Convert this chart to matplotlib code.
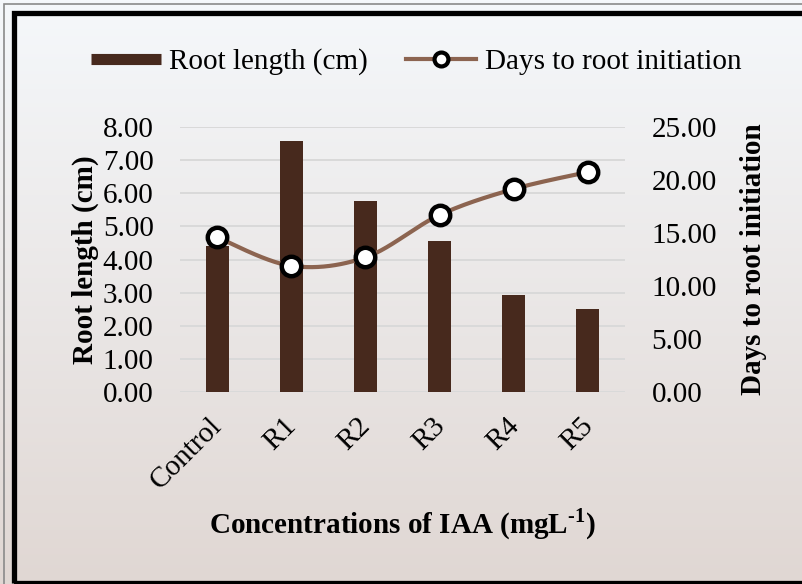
import numpy as np
import matplotlib
matplotlib.use("Agg")
import matplotlib.pyplot as plt
import matplotlib.transforms as mtransforms
from matplotlib.lines import Line2D
from matplotlib.patches import Rectangle

plt.rcParams['font.family'] = ['Liberation Serif', 'DejaVu Serif']
plt.rcParams['mathtext.fontset'] = 'custom'
plt.rcParams['mathtext.rm'] = 'Liberation Serif:bold'
plt.rcParams['mathtext.bf'] = 'Liberation Serif:bold'

categories = ['Control', 'R1', 'R2', 'R3', 'R4', 'R5']
root_length = [4.41, 7.57, 5.78, 4.56, 2.93, 2.51]
days_to_root = [14.6, 11.9, 12.7, 16.7, 19.15, 20.75]
left_ticks = [0, 1, 2, 3, 4, 5, 6, 7, 8]
right_ticks = [0, 5, 10, 15, 20, 25]

bar_color = '#47291D'
line_color = '#8C6450'
fs = 21


def smooth_curve(xs, ys, n=40):
    # Excel-style smoothed line (bezier through the points)
    xs = np.asarray(xs, float)
    ys = np.asarray(ys, float)
    px = np.concatenate([[xs[0]], xs, [xs[-1]]])
    py = np.concatenate([[ys[0]], ys, [ys[-1]]])
    out_x, out_y = [], []
    t = np.linspace(0, 1, n)
    for i in range(1, len(px) - 2):
        p0 = np.array([px[i], py[i]])
        p3 = np.array([px[i + 1], py[i + 1]])
        p1 = p0 + (p3 - np.array([px[i - 1], py[i - 1]])) / 6
        p2 = p3 - (np.array([px[i + 2], py[i + 2]]) - p0) / 6
        b = ((1 - t) ** 3)[:, None] * p0 + (3 * (1 - t) ** 2 * t)[:, None] * p1 \
            + (3 * (1 - t) * t ** 2)[:, None] * p2 + (t ** 3)[:, None] * p3
        out_x.extend(b[:, 0])
        out_y.extend(b[:, 1])
    return out_x, out_y


fig = plt.figure(figsize=(8.02, 5.84), dpi=100)

# background gradient
bg = fig.add_axes([0, 0, 1, 1], zorder=-10)
top = np.array([245, 248, 251]) / 255
bot = np.array([224, 215, 211]) / 255
grad = np.linspace(0, 1, 256)[:, None, None] * (bot - top) + top
bg.imshow(np.repeat(grad, 2, axis=1), aspect='auto', extent=[0, 1, 0, 1])
bg.axis('off')

# frame
fig.patches.append(Rectangle((13.5 / 802, 1 / 584), 1.2, (584 - 13.5) / 584,
                             transform=fig.transFigure, fill=False,
                             edgecolor='black', linewidth=3.8))
fig.patches.append(Rectangle((4 / 802, -0.1), 1.2, (584 - 4) / 584 + 0.1,
                             transform=fig.transFigure, fill=False,
                             edgecolor='#8A8A8A', linewidth=1.2))

ax = fig.add_axes([180 / 802, 1 - 392 / 584, 445 / 802, 265 / 584])
ax.patch.set_alpha(0)
x = np.arange(len(categories))
ax.bar(x, root_length, width=0.31, color=bar_color, zorder=2)
ax.set_xlim(-0.5, len(categories) - 0.5)
ax.set_ylim(0, 8)
ax.set_yticks(left_ticks)
ax.set_yticklabels([f'{v:.2f}' for v in left_ticks])
ax.set_axisbelow(True)
ax.grid(axis='y', color='#D9D9D9', linewidth=1.4)
for s in ax.spines.values():
    s.set_visible(False)
ax.tick_params(axis='y', length=0, pad=19, labelsize=fs)
ax.tick_params(axis='x', length=0, pad=15, labelsize=fs)
ax.set_xticks(x)
ax.set_xticklabels(categories, rotation=45, ha='right', rotation_mode='anchor')
shift = mtransforms.ScaledTranslation(-8 / 100, 0, fig.dpi_scale_trans)
for lbl in ax.get_xticklabels():
    lbl.set_transform(lbl.get_transform() + shift)
ax.set_ylabel('Root length (cm)', fontsize=fs, fontweight='bold', labelpad=3)
ax.set_xlabel(r'Concentrations of IAA (mgL$^{\text{-1}}$)', fontsize=fs,
              fontweight='bold', labelpad=9)

ax2 = ax.twinx()
sx, sy = smooth_curve(x, days_to_root)
ax2.plot(sx, sy, color=line_color, linewidth=3, solid_capstyle='round')
ax2.plot(x, days_to_root, linestyle='none', marker='o', markersize=14,
         markerfacecolor='white', markeredgecolor='black', markeredgewidth=3.2)
ax2.set_ylim(0, 25)
ax2.set_yticks(right_ticks)
ax2.set_yticklabels([f'{v:.2f}' for v in right_ticks])
for s in ax2.spines.values():
    s.set_visible(False)
ax2.tick_params(axis='y', length=0, pad=19, labelsize=fs)
ax2.set_ylabel('Days to root initiation', fontsize=fs, fontweight='bold',
               labelpad=17)

handles = [
    Line2D([], [], color=bar_color, linewidth=8, solid_capstyle='butt'),
    Line2D([], [], color=line_color, linewidth=3, marker='o', markersize=10,
           markerfacecolor='white', markeredgecolor='black', markeredgewidth=3),
]
fig.legend(handles, ['Root length (cm)', 'Days to root initiation'],
           loc='center', bbox_to_anchor=(416 / 802, 1 - 62 / 584), ncol=2,
           frameon=False, fontsize=fs, handlelength=2.4, handletextpad=0.3,
           columnspacing=1.3)

fig.savefig('out.png', dpi=100)
